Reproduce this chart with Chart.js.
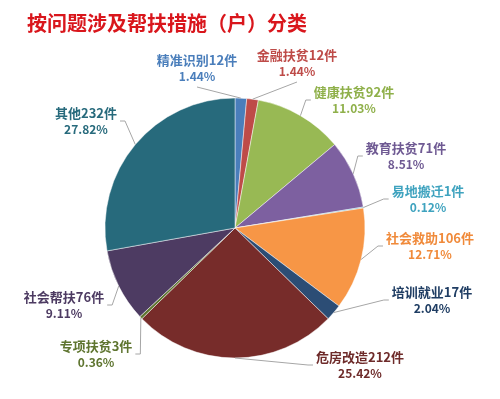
<!DOCTYPE html>
<html>
<head>
<meta charset="utf-8">
<script src="https://cdn.jsdelivr.net/npm/chart.js@4.4.0/dist/chart.umd.min.js"></script>
<style>
  html, body { margin: 0; padding: 0; background: #fff; }
  #wrap { width: 500px; height: 399px; }
</style>
</head>
<body>
<div id="wrap"><canvas id="chart" width="500" height="399"></canvas></div>
<script>
const chartTitle = '按问题涉及帮扶措施（户）分类';
const categories = ['精准识别', '金融扶贫', '健康扶贫', '教育扶贫', '易地搬迁', '社会救助',
                    '培训就业', '危房改造', '专项扶贫', '社会帮扶', '其他'];
const counts = [12, 12, 92, 71, 1, 106, 17, 212, 3, 76, 232];
const percentLabels = ['1.44%', '1.44%', '11.03%', '8.51%', '0.12%', '12.71%',
                       '2.04%', '25.42%', '0.36%', '9.11%', '27.82%'];

const sliceColors = ['#4a7ebb', '#be4b48', '#98b954', '#7d60a0', '#46aac5', '#f79646',
                     '#2c4d75', '#772c2a', '#5f7530', '#4d3b62', '#276a7c'];
const labelColors = ['#4a7ebb', '#be4b48', '#8fb04a', '#6f5a93', '#3fa3bf', '#f08a3a',
                     '#1f3d63', '#6e2b2a', '#5f7530', '#4d3b62', '#276a7c'];

// where each data label sits (centre of its first line)
const labelSpots = [[197, 60], [297, 55], [354, 92], [406, 148], [428, 191], [430, 238],
                    [432, 292], [360, 357], [96, 346], [64, 297], [86, 113]];

const labelFont = 'bold 13px "Noto Sans CJK SC", "Noto Sans", sans-serif';
const pctFont = 'bold 12px "Noto Sans CJK SC", "Noto Sans", sans-serif';

// draws the title, leader lines and two-line data labels
const pieLabels = {
    id: 'pieLabels',
    afterDatasetsDraw(chart) {
        const ctx = chart.ctx;
        const arcs = chart.getDatasetMeta(0).data;
        ctx.save();

        // title
        ctx.font = 'bold 20px "Noto Sans CJK SC", sans-serif';
        ctx.fillStyle = '#d9161c';
        ctx.textAlign = 'left';
        ctx.textBaseline = 'middle';
        ctx.fillText(chartTitle, 27, 23);

        arcs.forEach((arc, i) => {
            const p = arc.getProps(['x', 'y', 'startAngle', 'endAngle', 'outerRadius'], true);
            const mid = (p.startAngle + p.endAngle) / 2;
            const ax = p.x + Math.cos(mid) * p.outerRadius;
            const ay = p.y + Math.sin(mid) * p.outerRadius;

            const [lx, ly] = labelSpots[i];
            const text = categories[i] + counts[i] + '件';
            ctx.font = labelFont;
            const w = ctx.measureText(text).width;
            const top = ly - 9, bottom = ly + 25;
            const dx = lx - p.x, dy = (ly + 8) - p.y;

            ctx.strokeStyle = '#a6a6a6';
            ctx.lineWidth = 1;
            ctx.beginPath();
            ctx.moveTo(ax, ay);
            if (Math.abs(dy) > 2 * Math.abs(dx)) {
                // label above or below: attach to the nearer edge centre
                ctx.lineTo(lx, dy < 0 ? bottom + 2 : top - 2);
            } else {
                const edge = dx > 0 ? lx - w / 2 - 3 : lx + w / 2 + 3;
                const stub = dx > 0 ? edge - 5 : edge + 5;
                ctx.lineTo(stub, ly + 8);
                ctx.lineTo(edge, ly + 8);
            }
            ctx.stroke();

            ctx.fillStyle = labelColors[i];
            ctx.textAlign = 'center';
            ctx.textBaseline = 'middle';
            ctx.font = labelFont;
            ctx.fillText(text, lx, ly);
            ctx.font = pctFont;
            ctx.fillText(percentLabels[i], lx, ly + 16);
        });
        ctx.restore();
    }
};

new Chart(document.getElementById('chart'), {
    type: 'pie',
    data: {
        labels: categories,
        datasets: [{
            data: counts,
            backgroundColor: sliceColors,
            borderColor: 'rgba(255, 255, 255, 0.6)',
            borderWidth: 0.8,
            radius: 130
        }]
    },
    options: {
        responsive: false,
        animation: false,
        layout: { padding: { left: 20, right: 50, top: 80, bottom: 23 } },
        plugins: {
            legend: { display: false },
            tooltip: { enabled: false }
        }
    },
    plugins: [pieLabels]
});
</script>
</body>
</html>
